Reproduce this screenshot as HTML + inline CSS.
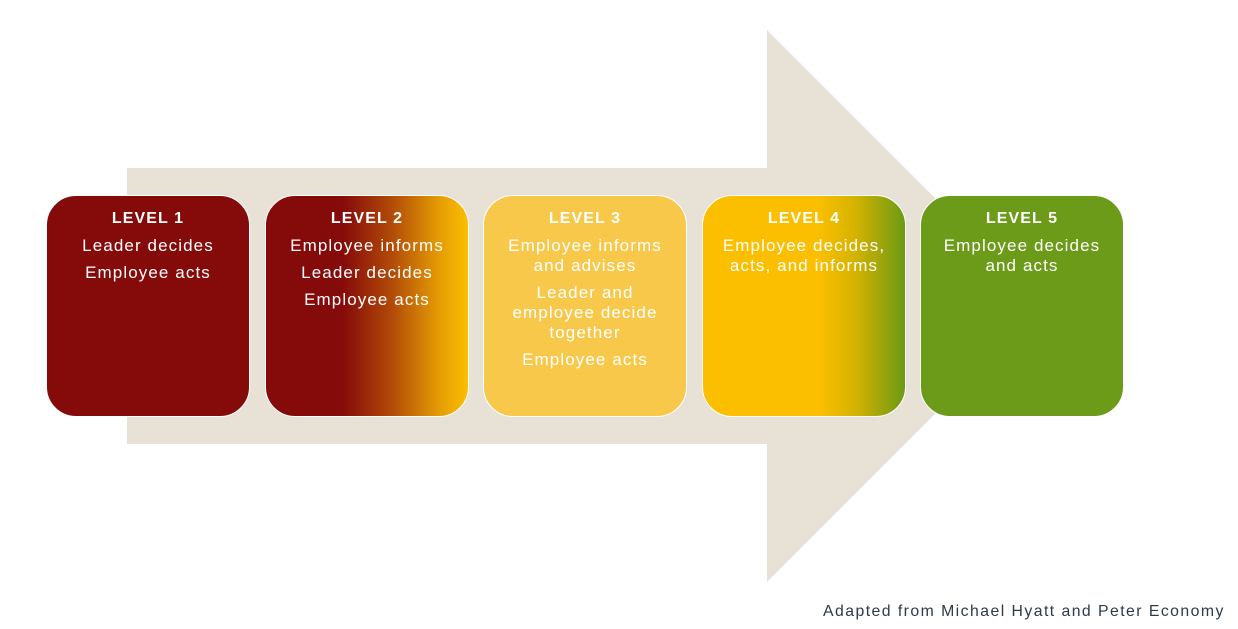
<!DOCTYPE html>
<html><head><meta charset="utf-8"><style>
body{margin:0;width:1238px;height:629px;background:#fff;position:relative;overflow:hidden;font-family:"Liberation Sans",sans-serif}
svg{position:absolute;left:0;top:0}
.b{position:absolute;top:195px;width:204px;height:222px;border:1.5px solid #fff;border-radius:30px;box-sizing:border-box;color:#fff;text-align:center;padding-top:13px;letter-spacing:1.1px;white-space:nowrap}
.b h{display:block;font-weight:bold;font-size:16px;line-height:20px;margin-bottom:7px}
.b p{margin:0 0 7px;font-size:17px;line-height:20px}
.note{position:absolute;left:823px;top:603px;font-size:15.8px;color:#2d3a4a;letter-spacing:1.45px;white-space:nowrap}
</style></head><body>
<svg width="1238" height="629"><polygon points="127,168 767,168 767,30 1043,306 767,582 767,444 127,444" fill="#e8e2d6"/></svg>
<div class="b" style="left:46px;background:#850a0a"><h>LEVEL 1</h><p>Leader decides</p><p>Employee acts</p></div>
<div class="b" style="left:265px;background:linear-gradient(to right,#850a0a 0%,#850a0a 38%,#b14a08 62%,#e39a04 85%,#fcbf00 100%)"><h>LEVEL 2</h><p>Employee informs</p><p>Leader decides</p><p>Employee acts</p></div>
<div class="b" style="left:483px;background:#f8c84a"><h>LEVEL 3</h><p>Employee informs<br>and advises</p><p>Leader and<br>employee decide<br>together</p><p>Employee acts</p></div>
<div class="b" style="left:702px;background:linear-gradient(to right,#fcbf00 0%,#fcbf00 57%,#d6b300 75%,#6b9a14 100%)"><h>LEVEL 4</h><p>Employee decides,<br>acts, and informs</p></div>
<div class="b" style="left:920px;background:#6b9b19"><h>LEVEL 5</h><p>Employee decides<br>and acts</p></div>
<div class="note">Adapted from Michael Hyatt and Peter Economy</div>
</body></html>
